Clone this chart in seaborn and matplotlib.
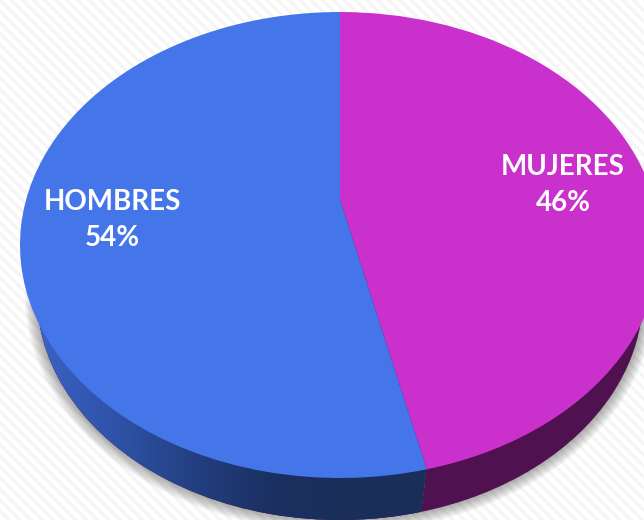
# -*- coding: utf-8 -*-
""" Tilted pie with men / women share. """
import numpy as np
import matplotlib
matplotlib.use("Agg")
import matplotlib.pyplot as plt
import seaborn as sns
from matplotlib.patches import Rectangle
from matplotlib.transforms import Transform

LABELS = ["MUJERES", "HOMBRES"]
VALUES = [46.4, 53.6]
LABEL_POS = [(563, 335), (112, 300)]

TOP_COLORS = ["#C930CC", "#4476EA"]
WALL_MAGENTA = "#4F1150"
WALL_BLUE = ["#3A62C4", "#2E52A6", "#233F80", "#1B3060", "#1A2E5A", "#1A2E5A"]

sns.set_theme(style="white")
plt.rcParams["font.family"] = ["Lato", "DejaVu Sans"]
plt.rcParams["hatch.linewidth"] = 2.2


class Tilt(Transform):
    """ Perspective map from the unit disc to a tilted ellipse, in pixels (y up). """
    input_dims = 2
    output_dims = 2

    def __init__(self, cx, top, bottom, half_width, apex, apex_dx=0):
        super().__init__()
        self.cx = cx
        self.apex = apex
        self.apex_dx = apex_dx
        self.k = (2 * apex - top - bottom) / (top - bottom)
        self.b = top * (1 + self.k) - apex
        self.a = half_width * np.sqrt(1 - self.k ** 2)

    def transform_non_affine(self, values):
        x, y = np.asarray(values).T
        w = 1 + self.k * y
        shift = self.apex_dx * np.clip(1 - np.hypot(x, y), 0, 1)
        return np.column_stack([self.cx + self.a * x / w + shift,
                                (self.b * y + self.apex) / w])


def draw_pie(ax, values, tilt, colors=None, **wedgeprops):
    wedges, _ = ax.pie(values, startangle=90, counterclock=False, colors=colors,
                       wedgeprops=wedgeprops)
    for wedge in wedges:
        wedge.set_transform(tilt + ax.transData)
    return wedges


fig, ax = plt.subplots(figsize=(6.44, 5.2), dpi=100)
fig.subplots_adjust(0, 0, 1, 1)

ax.add_patch(Rectangle((0, 0), 644, 520, facecolor="white", edgecolor="#F5F5F5",
                       hatch="\\\\\\", linewidth=0, zorder=0))

top_tilt = Tilt(340, 508, 42, 320, 320)
wall_tilt = Tilt(340, 450, 0, 303, 266, apex_dx=112)

# soft shadow under the rim
for lw in [17, 14, 11, 8, 5, 2]:
    for shadow in draw_pie(ax, [100], wall_tilt, facecolor="black", edgecolor="black",
                           linewidth=lw, alpha=0.06):
        shadow.set_zorder(1)

# side wall, the blue part gets a horizontal gradient
walls = draw_pie(ax, VALUES, wall_tilt, facecolor=WALL_MAGENTA, linewidth=0)
for wall in walls:
    wall.set_zorder(2)
cmap = sns.blend_palette(WALL_BLUE, as_cmap=True)
gradient = ax.imshow(np.linspace(0, 1, 256)[None, :], cmap=cmap, extent=(40, 430, 0, 520),
                     aspect="auto", zorder=3)
gradient.set_clip_path(walls[1])

# top face
for wedge in draw_pie(ax, VALUES, top_tilt, colors=TOP_COLORS, linewidth=0):
    wedge.set_zorder(4)

for name, value, (x, y) in zip(LABELS, VALUES, LABEL_POS):
    ax.text(x, y, f"{name}\n{value:.0f}%", color="white", fontsize=20, fontweight="bold",
            ha="center", va="center", linespacing=1.5, zorder=5)

ax.set_aspect("auto")
ax.set_xlim(0, 644)
ax.set_ylim(0, 520)
ax.axis("off")

fig.savefig("out.png", dpi=100)
